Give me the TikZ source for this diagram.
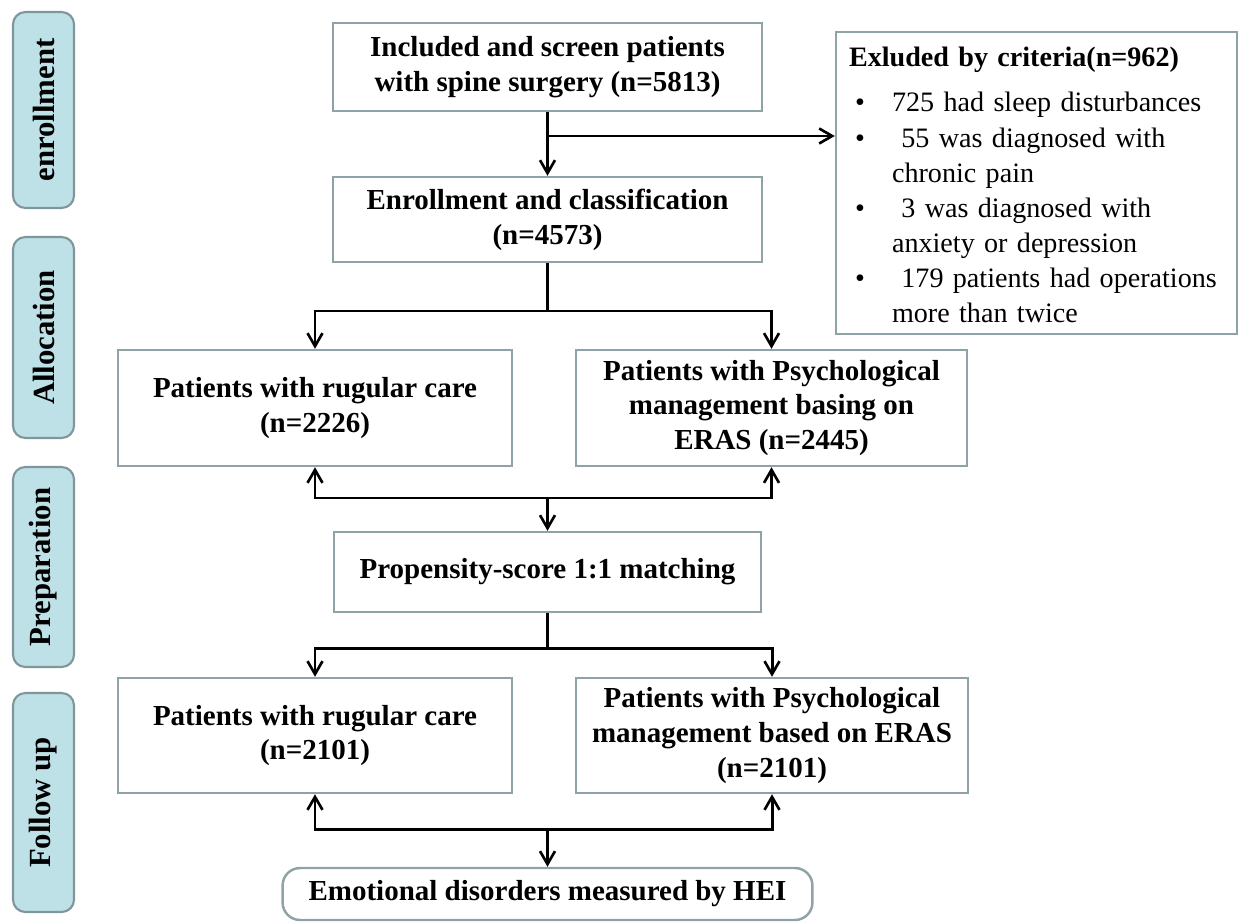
\documentclass[tikz,border=0pt]{standalone}
\usepackage{fontspec}
\setmainfont{Liberation Serif}
\usetikzlibrary{arrows.meta}
\definecolor{boxgray}{HTML}{8FA2A6}
\definecolor{barblue}{HTML}{BDE1E7}
\definecolor{bargray}{HTML}{7F979B}
\tikzset{
	box/.style={draw=boxgray, line width=1.4pt, align=center, inner sep=2pt,
		font=\fontsize{16.5}{19.8}\selectfont\bfseries},
	sidebar/.style={draw=bargray, fill=barblue, line width=1.2pt, rounded corners=7pt,
		rotate=90, minimum height=1.22cm, font=\fontsize{17.5}{20}\selectfont\bfseries},
	ln/.style={line width=1.7pt},
	arr/.style={ln, -{Straight Barb[length=2.6mm,width=3mm,line width=1.5pt]}}
}
\begin{document}
\begin{tikzpicture}[x=0.02cm, y=-0.02cm]
		\useasboundingbox (0,0) rectangle (1239,922);
		% 左侧阶段标签
		\foreach \yc/\h/\name/\txt in {110/3.92/sEnr/enrollment, 337.5/4.02/sAll/Allocation,
			567/4.0/sPre/Preparation, 802.5/4.38/sFol/Follow up}
			\node[sidebar, minimum width=\h cm] (\name) at (43.5,\yc) {\txt};
		% 纳入与筛选
		\node[box, minimum width=8.58cm, minimum height=1.76cm] (scr) at (547.5,67)
			{Included and screen patients\\with spine surgery (n=5813)};
		\node[box, minimum width=8.58cm, minimum height=1.70cm] (enr) at (547.5,219.5)
			{Enrollment and classification\\(n=4573)};
		% 排除标准
		\node[box, font=\fontsize{16}{20}\selectfont, align=left, text width=7.5cm,
			minimum width=8.02cm, minimum height=6.04cm] (exc) at (1036.5,183)
			{\raisebox{-0.09cm}[\height][\depth]{\begin{tabular}{@{}p{0.86cm}@{}l@{}}
				\multicolumn{2}{@{}l@{}}{\textbf{Exluded by criteria(n=962)}}\\[6pt]
				\hspace{0.12cm}\textbullet & 725 had sleep disturbances\\
				\hspace{0.12cm}\textbullet & \ 55 was diagnosed with\\
				& chronic pain\\
				\hspace{0.12cm}\textbullet & \ 3 was diagnosed with\\
				& anxiety or depression\\
				\hspace{0.12cm}\textbullet & \ 179 patients had operations\\
				& more than twice
			\end{tabular}}};
		% 分组
		\node[box, minimum width=7.88cm, minimum height=2.32cm] (regA) at (315,408)
			{Patients with rugular care\\(n=2226)};
		\node[box, minimum width=7.82cm, minimum height=2.32cm] (psyA) at (771.5,408)
			{Patients with Psychological\\management basing on\\ERAS (n=2445)};
		% 倾向评分匹配
		\node[box, minimum width=8.54cm, minimum height=1.60cm] (psm) at (547.5,572)
			{Propensity-score 1:1 matching};
		% 随访
		\node[box, minimum width=7.88cm, minimum height=2.30cm] (regB) at (315,735.5)
			{Patients with rugular care\\(n=2101)};
		\node[box, minimum width=7.84cm, minimum height=2.30cm] (psyB) at (772,735.5)
			{Patients with Psychological\\management based on ERAS\\(n=2101)};
		\node[box, rounded corners=10pt, minimum width=10.6cm, minimum height=1.04cm] (hei)
			at (547.5,894) {Emotional disorders measured by HEI};
		% 连线
		\coordinate (br) at (547.5,136);
		\coordinate (sp1) at (547.5,311);
		\coordinate (mg1) at (547.5,498);
		\coordinate (sp2) at (547.5,648);
		\coordinate (mg2) at (547.5,829);
		\draw[arr] (scr) -- (enr);
		\draw[arr] (br) -- (br -| exc.west);
		\draw[ln] (enr) -- (sp1);
		\draw[arr] (sp1) -| (regA);
		\draw[arr] (sp1) -| (psyA);
		\draw[arr] (mg1) -| (regA);
		\draw[arr] (mg1) -| (psyA);
		\draw[arr] (mg1) -- (psm);
		\draw[ln] (psm) -- (sp2);
		\draw[arr] (sp2) -| (regB);
		\draw[arr] (sp2) -| (psyB);
		\draw[arr] (mg2) -| (regB);
		\draw[arr] (mg2) -| (psyB);
		\draw[arr] (mg2) -- (hei);
	\end{tikzpicture}
\end{document}
